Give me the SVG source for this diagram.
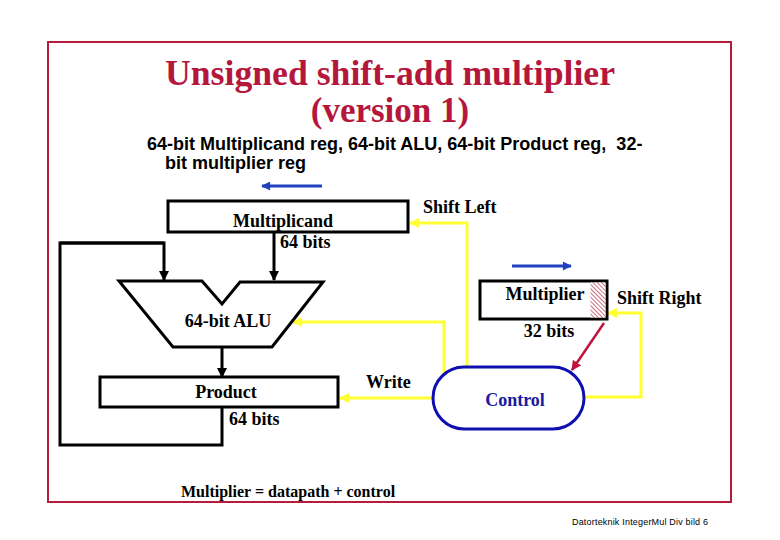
<svg xmlns="http://www.w3.org/2000/svg" width="780" height="540" viewBox="0 0 780 540">
<style>
.lbl{font-family:"Liberation Serif","Times New Roman",serif;font-weight:bold;font-size:18px;fill:#000}
.blk{fill:none;stroke:#000;stroke-width:3}
.yel{fill:none;stroke:#ffff33;stroke-width:3}
</style>
<defs>
<marker id="ab" viewBox="0 0 10 10" refX="9" refY="5" markerWidth="3.5" markerHeight="3.5" orient="auto" markerUnits="strokeWidth"><path d="M0,0 L10,5 L0,10 z" fill="#000"/></marker>
<marker id="ay" viewBox="0 0 10 10" refX="9" refY="5" markerWidth="3.5" markerHeight="3.5" orient="auto" markerUnits="strokeWidth"><path d="M0,0 L10,5 L0,10 z" fill="#ffff33"/></marker>
<marker id="au" viewBox="0 0 10 10" refX="9" refY="5" markerWidth="3.5" markerHeight="3" orient="auto" markerUnits="strokeWidth"><path d="M0,0 L10,5 L0,10 z" fill="#2040c0"/></marker>
<marker id="ar" viewBox="0 0 10 10" refX="9" refY="5" markerWidth="4" markerHeight="4" orient="auto" markerUnits="strokeWidth"><path d="M0,0 L10,5 L0,10 z" fill="#c0143c"/></marker>
<pattern id="hatch" patternUnits="userSpaceOnUse" width="3" height="3" patternTransform="rotate(-45)"><rect width="3" height="3" fill="#fff"/><line x1="0" y1="0" x2="0" y2="3" stroke="#a01030" stroke-width="1.2"/></pattern>
</defs>
<rect width="780" height="540" fill="#fff"/>
<rect x="48" y="42" width="683" height="460" fill="none" stroke="#b81c3c" stroke-width="2"/>
<g id="title">
<text x="390" y="85" text-anchor="middle" font-family="Liberation Serif,'Times New Roman',serif" font-weight="bold" font-size="35" fill="#b5173c" textLength="450" lengthAdjust="spacingAndGlyphs">Unsigned shift-add multiplier</text>
<text x="390" y="122" text-anchor="middle" font-family="Liberation Serif,'Times New Roman',serif" font-weight="bold" font-size="35" fill="#b5173c">(version 1)</text>
<text x="147" y="150" font-family="Liberation Sans,Arial,sans-serif" font-weight="bold" font-size="18" fill="#000">64-bit Multiplicand reg, 64-bit ALU, 64-bit Product reg, &#160;32-</text>
<text x="165" y="169" font-family="Liberation Sans,Arial,sans-serif" font-weight="bold" font-size="18" fill="#000">bit multiplier reg</text>
</g>
<g id="connectors">
<line x1="322" y1="186" x2="262" y2="186" stroke="#2040c0" stroke-width="3" marker-end="url(#au)"/>
<line x1="512" y1="266" x2="571" y2="266" stroke="#2040c0" stroke-width="3" marker-end="url(#au)"/>
<line x1="274" y1="232" x2="274" y2="280" class="blk" marker-end="url(#ab)"/>
<polyline points="164,243 60,243 60,445 222,445 222,408" class="blk"/>
<polyline points="60,243 164,243 164,280" class="blk" marker-end="url(#ab)"/>
<line x1="222" y1="347" x2="222" y2="377" class="blk" marker-end="url(#ab)"/>
<polyline points="467,367 467,223 410,223" class="yel" marker-end="url(#ay)"/>
<polyline points="444,374 444,322 293,322" class="yel" marker-end="url(#ay)"/>
<line x1="433" y1="398" x2="340" y2="398" class="yel" marker-end="url(#ay)"/>
<polyline points="584,397 641,397 641,313 608,313" class="yel" marker-end="url(#ay)"/>
<line x1="604" y1="323" x2="572" y2="370" stroke="#c0143c" stroke-width="2.5" marker-end="url(#ar)"/>
</g>
<g id="multiplicand">
<rect x="168" y="201" width="240" height="31" fill="#fff" class="blk"/>
<text x="283" y="227" text-anchor="middle" class="lbl">Multiplicand</text>
<text x="280" y="248" class="lbl">64 bits</text>
</g>
<g id="alu">
<polygon points="119,281 202,281 222,304 240,282 323,282 272,347 173,347" fill="#fff" class="blk"/>
<text x="228" y="327" text-anchor="middle" class="lbl">64-bit ALU</text>
</g>
<g id="product">
<rect x="100" y="377" width="238" height="30" fill="#fff" class="blk"/>
<text x="226" y="398" text-anchor="middle" class="lbl">Product</text>
<text x="229" y="425" class="lbl">64 bits</text>
</g>
<g id="multiplier">
<rect x="480" y="281" width="127" height="38" fill="#fff" class="blk"/>
<rect x="590.5" y="282.5" width="15" height="35" fill="url(#hatch)"/>
<text x="545" y="300" text-anchor="middle" class="lbl">Multiplier</text>
<text x="549" y="337" text-anchor="middle" class="lbl">32 bits</text>
</g>
<g id="control">
<rect x="433" y="367" width="151" height="62" rx="31" ry="31" fill="#fff" stroke="#1010b0" stroke-width="3"/>
<text x="515" y="406" text-anchor="middle" class="lbl" style="fill:#1a1aa0">Control</text>
</g>
<g id="labels">
<text x="423" y="213" class="lbl">Shift Left</text>
<text x="617" y="304" class="lbl">Shift Right</text>
<text x="366" y="388" class="lbl">Write</text>
<text x="181" y="497" font-family="Liberation Serif,'Times New Roman',serif" font-weight="bold" font-size="16" fill="#000">Multiplier = datapath + control</text>
<text x="572" y="525" font-family="Liberation Sans,Arial,sans-serif" font-size="9" fill="#000" textLength="136" lengthAdjust="spacing">Datorteknik IntegerMul Div bild 6</text>
</g>
</svg>
